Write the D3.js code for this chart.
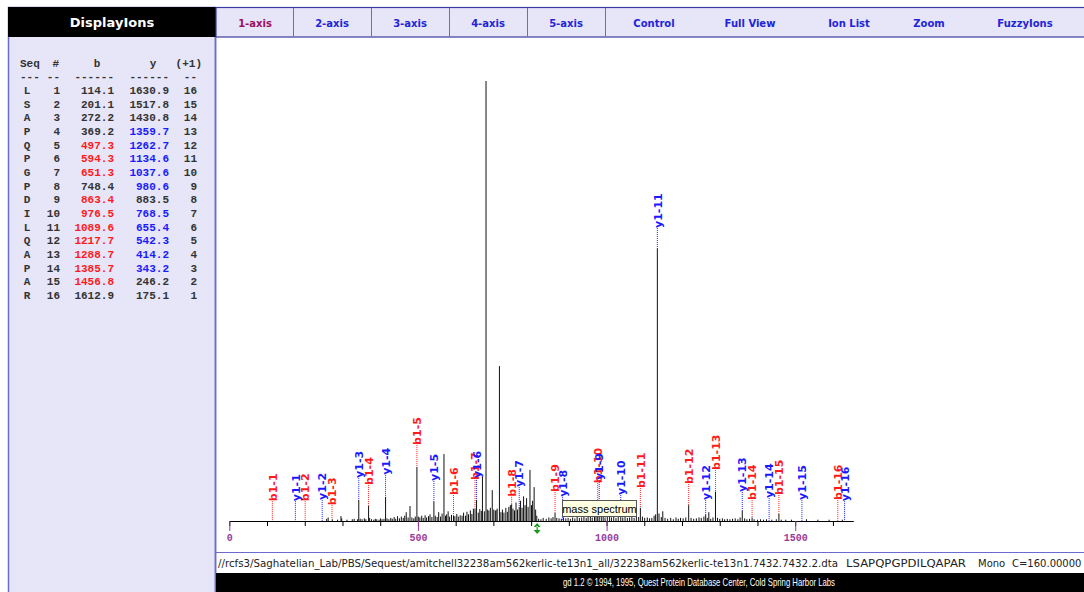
<!DOCTYPE html>
<html>
<head>
<meta charset="utf-8">
<script src="https://cdn.jsdelivr.net/npm/d3@7"></script>
<style>
  body { margin: 0; background: #fff; }
  svg { display: block; }
</style>
</head>
<body>
<script>
// sequence table data
const seq = ["L","S","A","P","Q","P","G","P","D","I","L","Q","A","P","A","R"];
const bIons = [114.1, 201.1, 272.2, 369.2, 497.3, 594.3, 651.3, 748.4, 863.4, 976.5, 1089.6, 1217.7, 1288.7, 1385.7, 1456.8, 1612.9];
// y column as listed in the table (row 1 = y16 ... row 16 = y1)
const yIons = [1630.9, 1517.8, 1430.8, 1359.7, 1262.7, 1134.6, 1037.6, 980.6, 883.5, 768.5, 655.4, 542.3, 414.2, 343.2, 246.2, 175.1];
const bHit = [0,0,0,0,1,1,1,0,1,1,1,1,1,1,1,0];
const yHit = [0,0,0,1,1,1,1,1,0,1,1,1,1,1,0,0];

// label heights (intensity units) for b1-1..b1-16 and y1-1..y1-16
const bLabelLevel = [4.5, 4.5, 3.6, 8.2, 17.3, 5.9, 9.3, 5.5, 6.6, 8.6, 7.5, 8.4, 11.6, 4.8, 5.9, 4.8];
const yLabelLevel = [4.5, 4.8, 9.8, 10.5, 9.1, 9.8, 7.7, 5.5, 9.3, 5.9, 66.6, 4.8, 6.6, 5.2, 4.8, 4.5];

const navItems = ["1-axis","2-axis","3-axis","4-axis","5-axis","Control","Full View","Ion List","Zoom","FuzzyIons"];
const navCenters = [255, 332, 410, 488, 566, 654, 750, 849, 929, 1025];

const majorTicks = [0, 500, 1000, 1500];
const precursorMz = 816;

// peak list [m/z, relative intensity %]
const peaks = [
  [258,0.5],[262,0.8],[273,0.4],[287,0.3],[296,1.1],[298,0.6],[312,0.3],[326,0.4],[331,0.5],[340,0.4],
  [343.2,4.8],[347,0.5],[352,0.4],[358,0.6],[362,0.4],[369.2,3.4],[372,0.7],[377,0.4],[383,0.3],[387,0.5],
  [391,0.4],[397,0.3],[401,0.6],[405,0.4],[410,0.5],[414.2,5.5],[418,0.6],[423,0.4],[428,0.7],[432,0.5],
  [437,0.9],[441,0.5],[446,1.1],[451,0.6],[456,1.0],[461,0.7],[465,1.2],[469,2.0],[474,0.8],[479,3.4],
  [484,0.8],[489,0.6],[493,1.0],[497.3,12.3],[501,1.0],[505,0.8],[510,1.2],[514,0.7],[519,1.3],[523,0.8],
  [528,1.1],[532,1.5],[537,0.9],[542.3,4.5],[546,1.2],[551,0.9],[555,2.0],[560,1.0],[564,1.7],[569,15.2],
  [573,1.2],[576,1.5],[580,2.2],[584,1.0],[589,1.4],[594.3,1.2],[598,1.1],[603,1.6],[607,1.0],[612,1.3],
  [617,1.2],[621,1.9],[626,1.2],[630,2.1],[634,1.5],[639,2.4],[643,1.6],[647,2.8],[651.3,2.8],[655.4,4.8],
  [660,1.9],[664,2.7],[668,2.3],[671,10.0],[676,2.2],[680.5,100],[684,2.6],[688,2.4],[692,3.0],[697,7.0],
  [701,2.6],[705,2.3],[707,2.5],[710,2.8],[716,35.2],[720,2.0],[724,2.6],[728,1.9],[733,3.0],[737,2.1],
  [741,3.2],[745,3.6],[748.4,3.8],[752,2.8],[756,2.4],[760,4.2],[764,2.6],[768.5,3.2],[772,4.6],[776,3.0],
  [780,5.6],[784,3.6],[788,5.2],[792,3.2],[797,11.6],[801,3.6],[804,4.6],[808,7.7],[812,2.6],[815,1.2],
  [820,0.5],[826,0.4],[832,0.7],[840,0.5],[847,0.8],[853,0.6],[858,0.9],[863.4,1.8],[868,0.7],[874,0.6],
  [880,0.5],[886,0.8],[892,0.6],[898,0.7],[904,0.5],[910,0.8],[916,0.6],[922,0.9],[928,0.7],[934,0.8],
  [940,1.0],[946,0.7],[951,0.9],[957,1.1],[962,0.8],[968,1.3],[972,0.9],[976.5,1.6],[980.6,2.0],[986,1.0],
  [991,1.2],[996,0.8],[1002,0.9],[1008,1.1],[1013,0.8],[1019,1.0],[1025,0.7],[1031,0.9],[1037.6,1.4],[1043,0.8],
  [1049,0.9],[1055,0.7],[1061,0.8],[1067,0.9],[1073,0.7],[1079,1.1],[1085,0.9],[1089.6,3.0],[1095,1.0],[1101,0.7],
  [1108,0.8],[1114,0.6],[1120,0.7],[1126,1.2],[1130,1.5],[1134.6,62],[1139,1.7],[1145,0.9],[1149,2.2],[1155,0.7],
  [1162,0.5],[1170,0.7],[1177,0.4],[1184,0.8],[1190,0.5],[1196,0.7],[1203,0.6],[1210,0.8],[1217.7,3.6],[1224,0.7],
  [1231,0.5],[1238,0.6],[1245,0.8],[1251,0.7],[1258,1.0],[1262.7,1.4],[1267,0.7],[1271,2.0],[1276,0.5],[1282,0.8],
  [1288.7,6.7],[1294,0.7],[1300,0.5],[1307,0.6],[1313,0.4],[1320,0.5],[1327,0.4],[1334,0.5],[1341,0.6],[1348,0.4],
  [1354,0.8],[1359.7,2.3],[1366,0.6],[1372,0.4],[1379,0.5],[1385.7,0.8],[1391,0.4],[1400,0.3],[1408,0.4],[1416,0.3],
  [1424,0.4],[1438,0.3],[1450,0.4],[1456.8,1.6],[1463,0.3],[1475,0.3],[1490,0.3],[1530,0.4],[1560,0.3],[1590,0.3],
  [1625,0.3]
];

const statusPath = "//rcfs3/Saghatelian_Lab/PBS/Sequest/amitchell32238am562kerlic-te13n1_all/32238am562kerlic-te13n1.7432.7432.2.dta";
const statusSeq = "LSAPQPGPDILQAPAR";
const footerText = "gd 1.2 \u00a9 1994, 1995, Quest Protein Database Center, Cold Spring Harbor Labs";

const W = 1084, H = 592;
const lavender = "#e6e6f8", frame = "#6b6bcf";
const RED = "#ff1a1a", BLUE = "#1a1aff", GREY = "#333";

const svg = d3.select("body").append("svg").attr("width", W).attr("height", H);

// ---------- left panel ----------
svg.append("rect").attr("x", 8.5).attr("y", 7.5).attr("width", 207).attr("height", 590)
  .attr("fill", lavender).attr("stroke", frame).attr("stroke-width", 1.5);
svg.append("rect").attr("x", 8).attr("y", 7).attr("width", 208).attr("height", 30).attr("fill", "#000");
svg.append("text").attr("x", 112).attr("y", 27).attr("text-anchor", "middle")
  .attr("fill", "#fff").style("font", "bold 13px 'DejaVu Sans', Verdana, sans-serif").text("DisplayIons");

const mono = "bold 11px 'Liberation Mono', 'Courier New', monospace";
const table = svg.append("g").style("font", mono).attr("fill", GREY);
const hdrY = 67, dashY = 80, row0 = 94, rowStep = 13.67;
const cols = [
  {dash: "---", x: 20, anchor: "start"},
  {dash: "--", x: 60, anchor: "end"},
  {dash: "------", x: 114, anchor: "end"},
  {dash: "------", x: 169, anchor: "end"},
  {dash: "--", x: 197, anchor: "end"}
];
table.append("text").attr("x", 20).attr("y", hdrY).text("Seq");
table.append("text").attr("x", 59).attr("y", hdrY).attr("text-anchor", "end").text("#");
table.append("text").attr("x", 97).attr("y", hdrY).attr("text-anchor", "middle").text("b");
table.append("text").attr("x", 153).attr("y", hdrY).attr("text-anchor", "middle").text("y");
table.append("text").attr("x", 202).attr("y", hdrY).attr("text-anchor", "end").text("(+1)");
cols.forEach(c => {
  table.append("text").attr("x", c.x).attr("y", dashY).attr("text-anchor", c.anchor).text(c.dash);
});

const rows = table.selectAll("g.row").data(seq).join("g").attr("class", "row")
  .attr("transform", (d, i) => `translate(0,${row0 + i * rowStep})`);
rows.append("text").attr("x", 27).attr("text-anchor", "middle").text(d => d);
rows.append("text").attr("x", 60).attr("text-anchor", "end").text((d, i) => i + 1);
rows.append("text").attr("x", 114).attr("text-anchor", "end")
  .attr("fill", (d, i) => bHit[i] ? RED : GREY).text((d, i) => bIons[i].toFixed(1));
rows.append("text").attr("x", 169).attr("text-anchor", "end")
  .attr("fill", (d, i) => yHit[i] ? BLUE : GREY).text((d, i) => yIons[i].toFixed(1));
rows.append("text").attr("x", 197).attr("text-anchor", "end").text((d, i) => seq.length - i);

// ---------- top nav ----------
svg.append("rect").attr("x", 216).attr("y", 7.5).attr("width", 870).attr("height", 29.5)
  .attr("fill", lavender).attr("stroke", "#3a3aa0").attr("stroke-width", 1.2);
svg.selectAll("line.navsep").data([293, 371, 449, 527, 605]).join("line").attr("class", "navsep")
  .attr("x1", d => d + 0.5).attr("x2", d => d + 0.5).attr("y1", 8).attr("y2", 37)
  .attr("stroke", frame).attr("stroke-width", 1);
svg.selectAll("text.nav").data(navItems).join("text").attr("class", "nav")
  .attr("x", (d, i) => navCenters[i]).attr("y", 27).attr("text-anchor", "middle")
  .attr("fill", (d, i) => i === 0 ? "#99105e" : "#2323d8")
  .style("font", "bold 10px 'DejaVu Sans', Verdana, sans-serif").text(d => d);
svg.append("line").attr("x1", 215.5).attr("x2", 215.5).attr("y1", 37).attr("y2", 592)
  .attr("stroke", frame).attr("stroke-width", 1.5);

// ---------- spectrum ----------
const x = d3.scaleLinear().domain([0, 1654]).range([229.3, 853.3]);
const y = d3.scaleLinear().domain([0, 100]).range([521, 81]);

function peakAt(mz) {
  let m = 0;
  peaks.forEach(p => { if (Math.abs(p[0] - mz) <= 1.2 && p[1] > m) m = p[1]; });
  return m;
}

const ions = [];
bIons.forEach((mz, i) => ions.push({name: `b1-${i + 1}`, mz, level: bLabelLevel[i], color: RED}));
yIons.slice().reverse().forEach((mz, i) => ions.push({name: `y1-${i + 1}`, mz, level: yLabelLevel[i], color: BLUE}));

const chart = svg.append("g");
chart.selectAll("line.ionline").data(ions).join("line").attr("class", "ionline")
  .attr("x1", d => x(d.mz)).attr("x2", d => x(d.mz))
  .attr("y1", d => y(d.level)).attr("y2", d => y(peakAt(d.mz)))
  .attr("stroke", d => d.color).attr("stroke-width", 1).attr("stroke-dasharray", "1,1");

chart.selectAll("line.peak").data(peaks).join("line").attr("class", "peak")
  .attr("x1", d => x(d[0])).attr("x2", d => x(d[0]))
  .attr("y1", y(0)).attr("y2", d => y(d[1]))
  .attr("stroke", "#111").attr("stroke-width", 1);

chart.selectAll("text.ion").data(ions).join("text").attr("class", "ion")
  .attr("transform", d => `translate(${x(d.mz)},${y(d.level)}) rotate(-90)`)
  .attr("dy", "0.38em").attr("fill", d => d.color)
  .style("font", "bold 11px 'DejaVu Sans', Verdana, sans-serif").text(d => d.name);

// axis
const minor = d3.axisBottom(x).tickValues(d3.range(0, 1700, 100)).tickSize(5).tickSizeOuter(0).tickFormat("");
const gMinor = chart.append("g").attr("transform", `translate(0,${y(0)})`).call(minor);
gMinor.select(".domain").attr("stroke", "#000");
gMinor.selectAll(".tick line").attr("stroke", "#000");

const major = d3.axisBottom(x).tickValues(majorTicks).tickSize(10).tickSizeOuter(0).tickPadding(3)
  .tickFormat(d3.format("d"));
const gMajor = chart.append("g").attr("transform", `translate(0,${y(0)})`).call(major);
gMajor.select(".domain").remove();
gMajor.selectAll(".tick line").attr("stroke", "#9a3b9a");
gMajor.selectAll(".tick text").attr("fill", "#9a3b9a")
  .style("font", "bold 10px 'Liberation Mono', 'Courier New', monospace");

// precursor marker
const px = x(precursorMz);
chart.append("path")
  .attr("d", `M${px},${y(0) + 2} l-3.5,4 h7 z M${px},${y(0) + 13} l-3.5,-4 h7 z M${px - 0.6},${y(0) + 5} h1.2 v5 h-1.2 z`)
  .attr("fill", "#1a9a1a");

// tooltip
const tip = svg.append("g").attr("transform", "translate(562,500)");
tip.append("rect").attr("x", 0.5).attr("y", 0.5).attr("width", 74).attr("height", 16)
  .attr("fill", "#ffffe1").attr("stroke", "#555");
tip.append("text").attr("x", 37.5).attr("y", 12.5).attr("text-anchor", "middle")
  .style("font", "11px 'Liberation Sans', Arial, sans-serif").attr("fill", "#000").text("mass spectrum");

// ---------- status and footer ----------
svg.append("line").attr("x1", 216).attr("x2", W).attr("y1", 552.5).attr("y2", 552.5).attr("stroke", frame);
const sfont = "10px 'DejaVu Sans', Tahoma, sans-serif";
svg.append("text").attr("x", 218).attr("y", 567).style("font", sfont).attr("fill", "#222")
  .attr("textLength", 620).attr("lengthAdjust", "spacingAndGlyphs").text(statusPath);
svg.append("text").attr("x", 846).attr("y", 567).style("font", sfont).attr("fill", "#222")
  .attr("textLength", 120).attr("lengthAdjust", "spacingAndGlyphs").text(statusSeq);
svg.append("text").attr("x", 978).attr("y", 567).style("font", sfont).attr("fill", "#222").text("Mono");
svg.append("text").attr("x", 1012).attr("y", 567).style("font", sfont).attr("fill", "#222").text("C=160.00000");

svg.append("rect").attr("x", 216).attr("y", 573).attr("width", W - 216).attr("height", 19).attr("fill", "#000");
svg.append("text").attr("x", 699).attr("y", 586).attr("text-anchor", "middle")
  .style("font", "11px 'Liberation Sans', Tahoma, sans-serif").attr("fill", "#fff")
  .attr("textLength", 272).attr("lengthAdjust", "spacingAndGlyphs").text(footerText);
</script>
</body>
</html>
